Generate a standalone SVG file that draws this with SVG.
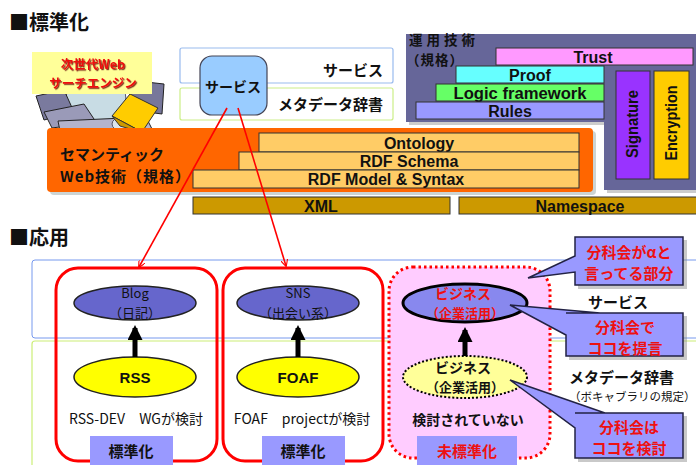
<svg xmlns="http://www.w3.org/2000/svg" width="696" height="465" viewBox="0 0 696 465">
  <style>
    text { font-family: "Liberation Sans", "Noto Sans CJK JP", sans-serif; font-weight: bold; fill: #111; }
    .jp { font-family: "Noto Sans CJK JP", "Liberation Sans", sans-serif; }
    .normal { font-weight: normal; }
    .head { font-size: 20px; }
    .bar { stroke: #333; stroke-width: 1; }
    .layer { font-size: 16px; text-anchor: middle; }
    .red { fill: #ee1111; }
    .callout { fill: #9999ff; stroke: #222244; stroke-width: 1.5; }
    .cshadow { fill: #888; opacity: 0.45; }
    .redline { stroke: #ff0000; stroke-width: 1.6; fill: none; marker-end: url(#openArrow); }
    .blkarrow { stroke: #000; stroke-width: 5; marker-end: url(#solidArrow); }
    .group { fill: none; stroke: #ff0000; stroke-width: 3; }
    .label { fill: #9999ff; }
  </style>
  <defs>
    <marker id="openArrow" viewBox="0 0 10 10" refX="9" refY="5" markerWidth="7" markerHeight="7" orient="auto" markerUnits="userSpaceOnUse">
      <path d="M0,0 L10,5 L0,10" fill="none" stroke="#ff0000" stroke-width="1.6"/>
    </marker>
    <marker id="solidArrow" viewBox="0 0 10 10" refX="8" refY="5" markerWidth="15" markerHeight="15" orient="auto" markerUnits="userSpaceOnUse">
      <path d="M0,0 L10,5 L0,10 Z" fill="#000"/>
    </marker>
    <filter id="textShadow" x="-10%" y="-30%" width="120%" height="160%">
      <feDropShadow dx="1.2" dy="1.2" stdDeviation="0.3" flood-color="#660000" flood-opacity="0.8"/>
    </filter>
  </defs>

  <rect width="696" height="465" fill="#ffffff"/>

  <!-- section headings -->
  <text class="jp head" x="9" y="30">■標準化</text>
  <text class="jp head" x="9" y="245">■応用</text>

  <!-- search engine clip art -->
  <g id="search-engine">
    <polygon points="128,80 164,84 162,114 132,110" fill="#77779a" stroke="#222" stroke-width="1"/>
    <circle cx="96" cy="100" r="30" fill="#c8dce4" stroke="#556" stroke-width="1"/>
    <polygon points="36,96 64,90 74,112 44,120" fill="#7a7a9e" stroke="#222" stroke-width="1"/>
    <polygon points="44,112 84,104 96,122 52,128" fill="#9a9ab8" stroke="#222" stroke-width="1"/>
    <polygon points="58,121 146,117 152,129 60,131" fill="#b4b4cc" stroke="#222" stroke-width="1"/>
    <ellipse cx="122" cy="124" rx="10" ry="7" fill="#dde6ee" stroke="#556" stroke-width="1"/>
    <polygon points="112,116 130,94 158,108 142,132" fill="#ffcc00" stroke="#333" stroke-width="1"/>
    <polygon points="112,116 120,126 144,133 142,132" fill="#cc9900" stroke="#333" stroke-width="1"/>
    <rect x="32" y="52" width="120" height="42" fill="#ffff99"/>
    <text class="jp red" x="93" y="69" font-size="12.5" text-anchor="middle" filter="url(#textShadow)">次世代Web</text>
    <text class="jp red" x="93" y="88" font-size="12.5" text-anchor="middle" filter="url(#textShadow)">サーチエンジン</text>
  </g>

  <!-- service / metadata rows -->
  <g id="service-row">
    <rect x="180" y="48" width="213" height="35" rx="2" fill="#fff" stroke="#99bbee" stroke-width="1.2"/>
    <text class="jp" x="383" y="76" font-size="15" text-anchor="end">サービス</text>
  </g>
  <g id="metadata-row">
    <rect x="180" y="88" width="213" height="32" rx="2" fill="#fff" stroke="#ccee88" stroke-width="1.2"/>
    <text class="jp" x="383" y="110" font-size="15" text-anchor="end">メタデータ辞書</text>
  </g>
  <g id="service-box">
    <rect x="200" y="56" width="67" height="59" rx="12" fill="#99ccff" stroke="#445" stroke-width="1.2"/>
    <text class="jp" x="233" y="92" font-size="14" text-anchor="middle">サービス</text>
  </g>

  <!-- operations technology block -->
  <g id="operations">
    <polygon points="409,37 699,37 699,193 607,193 607,125 409,125" fill="#999" opacity="0.5"/>
    <polygon points="406,34 696,34 696,190 604,190 604,122 406,122" fill="#666699"/>
    <text class="jp" x="409" y="45" font-size="13.5" letter-spacing="4">運用技術</text>
    <text class="jp" x="406" y="65" font-size="13.5" letter-spacing="1">（規格）</text>
    <rect class="bar" x="496" y="48" width="197" height="17" fill="#ff99ff"/>
    <text class="layer" x="593" y="63">Trust</text>
    <rect class="bar" x="456" y="66" width="148" height="17" fill="#66ffff"/>
    <text class="layer" x="530" y="81">Proof</text>
    <rect class="bar" x="436" y="84" width="168" height="17" fill="#66ff66"/>
    <text class="layer" x="520" y="99" textLength="133" lengthAdjust="spacingAndGlyphs">Logic framework</text>
    <rect class="bar" x="416" y="102" width="188" height="17" fill="#9999ff"/>
    <text class="layer" x="510" y="117">Rules</text>
    <rect class="bar" x="616" y="71" width="34" height="108" fill="#9933ff"/>
    <text class="layer" x="0" y="0" font-size="15" textLength="68" lengthAdjust="spacingAndGlyphs" transform="translate(638,124) rotate(-90)">Signature</text>
    <rect class="bar" x="654" y="71" width="35" height="108" fill="#ffcc00"/>
    <text class="layer" x="0" y="0" font-size="15" textLength="75" lengthAdjust="spacingAndGlyphs" transform="translate(677,123) rotate(-90)">Encryption</text>
  </g>

  <!-- semantic web technology block -->
  <g id="semantic-web">
    <rect x="50" y="131" width="546" height="64" rx="4" fill="#99aaaa" opacity="0.5"/>
    <rect x="47" y="128" width="546" height="64" rx="4" fill="#ff6600"/>
    <text class="jp" x="60" y="160" font-size="15">セマンティック</text>
    <text class="jp" x="60" y="182" font-size="15" letter-spacing="1">Web技術（規格）</text>
    <rect class="bar" x="259" y="133" width="320" height="19" fill="#ffcc66"/>
    <text class="layer" x="419" y="149" font-size="17">Ontology</text>
    <rect class="bar" x="239" y="152" width="340" height="18" fill="#ffcc66"/>
    <text class="layer" x="409" y="167" font-size="17">RDF Schema</text>
    <rect class="bar" x="193" y="170" width="386" height="18" fill="#ffcc66"/>
    <text class="layer" x="386" y="185" font-size="17">RDF Model &amp; Syntax</text>
  </g>
  <g id="xml">
    <rect class="bar" x="193" y="197" width="257" height="17" fill="#cc9900"/>
    <text class="layer" x="321" y="212" font-size="17">XML</text>
  </g>
  <g id="namespace">
    <rect class="bar" x="459" y="197" width="240" height="17" fill="#cc9900"/>
    <text class="layer" x="580" y="212" font-size="17">Namespace</text>
  </g>

  <!-- application bands -->
  <g id="service-band">
    <rect x="32" y="260" width="680" height="78" rx="3" fill="#fff" stroke="#7799ee" stroke-width="1"/>
    <text class="jp" x="588" y="308" font-size="15">サービス</text>
  </g>
  <g id="metadata-band">
    <rect x="32" y="341" width="680" height="140" rx="3" fill="#fff" stroke="#ccee77" stroke-width="1.2"/>
    <text class="jp" x="569" y="383" font-size="15">メタデータ辞書</text>
    <text class="jp normal" x="569" y="401" font-size="11.5">（ボキャブラリの規定）</text>
  </g>

  <!-- Blog / RSS -->
  <g id="blog-group">
    <rect class="group" x="56" y="268" width="161" height="193" rx="22"/>
    <rect class="label" x="90" y="436" width="83" height="30"/>
    <text class="jp" x="131" y="457" font-size="15" text-anchor="middle">標準化</text>
    <text class="jp normal" x="136" y="424" font-size="14" text-anchor="middle">RSS-DEV　WGが検討</text>
  </g>
  <g id="blog">
    <ellipse cx="135" cy="303" rx="61" ry="17" fill="#6666cc" stroke="#222" stroke-width="1.5"/>
    <text class="jp normal" x="135" y="298" font-size="13" text-anchor="middle">Blog</text>
    <text class="jp normal" x="135" y="318" font-size="13" text-anchor="middle">（日記）</text>
  </g>
  <g id="rss">
    <ellipse cx="135" cy="377" rx="61" ry="20" fill="#ffff00" stroke="#222" stroke-width="1.5"/>
    <text x="135" y="383" font-size="15" text-anchor="middle">RSS</text>
  </g>

  <!-- SNS / FOAF -->
  <g id="sns-group">
    <rect class="group" x="223" y="268" width="160" height="193" rx="22"/>
    <rect class="label" x="262" y="436" width="83" height="30"/>
    <text class="jp" x="303" y="457" font-size="15" text-anchor="middle">標準化</text>
    <text class="jp normal" x="302" y="424" font-size="14" text-anchor="middle">FOAF　projectが検討</text>
  </g>
  <g id="sns">
    <ellipse cx="298" cy="303" rx="61" ry="17" fill="#6666cc" stroke="#222" stroke-width="1.5"/>
    <text class="jp normal" x="298" y="298" font-size="13" text-anchor="middle">SNS</text>
    <text class="jp normal" x="298" y="318" font-size="13" text-anchor="middle">（出会い系）</text>
  </g>
  <g id="foaf">
    <ellipse cx="298" cy="377" rx="61" ry="20" fill="#ffff00" stroke="#222" stroke-width="1.5"/>
    <text x="298" y="383" font-size="15" text-anchor="middle">FOAF</text>
  </g>

  <!-- business (not standardised) -->
  <g id="business-group">
    <rect x="389" y="267" width="161" height="191" rx="24" fill="#ffccff" stroke="#ff0000" stroke-width="3" stroke-dasharray="2.5 3"/>
    <rect class="label" x="417" y="436" width="100" height="30"/>
    <text class="jp red" x="467" y="457" font-size="15" text-anchor="middle">未標準化</text>
    <text class="jp" x="468" y="425" font-size="14" text-anchor="middle">検討されていない</text>
  </g>
  <g id="business-service">
    <ellipse cx="465" cy="303" rx="62" ry="19" fill="#8888ee" stroke="#000" stroke-width="3"/>
    <text class="jp red" x="463" y="299" font-size="14" text-anchor="middle">ビジネス</text>
    <text class="jp red" x="465" y="318" font-size="13" text-anchor="middle">（企業活用）</text>
  </g>
  <g id="business-metadata">
    <ellipse cx="465" cy="377" rx="62" ry="21" fill="#ffff99" stroke="#000" stroke-width="2" stroke-dasharray="2 2"/>
    <text class="jp" x="463" y="373" font-size="14" text-anchor="middle">ビジネス</text>
    <text class="jp" x="465" y="392" font-size="13" text-anchor="middle">（企業活用）</text>
  </g>

  <!-- callouts -->
  <g id="callout-alpha">
    <path class="cshadow" d="M578,240 H687 V289 H578 V270 Z"/>
    <path class="callout" d="M575,237 H683 V285 H575 V272 L528,278 L575,256 Z"/>
    <text class="jp red" x="629" y="258" font-size="15" text-anchor="middle">分科会がαと</text>
    <text class="jp red" x="629" y="279" font-size="15" text-anchor="middle">言ってる部分</text>
  </g>
  <g id="callout-propose">
    <path class="cshadow" d="M569,316 H687 V360 H569 Z"/>
    <path class="callout" d="M566,313 H683 V356 H566 V335 L510,305 L600,313 Z"/>
    <text class="jp red" x="625" y="333" font-size="15" text-anchor="middle">分科会で</text>
    <text class="jp red" x="625" y="354" font-size="15" text-anchor="middle">ココを提言</text>
  </g>
  <g id="callout-review">
    <path class="cshadow" d="M578,416 H687 V462 H578 Z"/>
    <path class="callout" d="M575,413 H683 V458 H575 V428 L510,380 L605,413 Z"/>
    <text class="jp red" x="629" y="433" font-size="15" text-anchor="middle">分科会は</text>
    <text class="jp red" x="629" y="454" font-size="15" text-anchor="middle">ココを検討</text>
  </g>

  <!-- connectors -->
  <g id="connectors">
    <line class="redline" x1="227" y1="108" x2="139" y2="267"/>
    <line class="redline" x1="238" y1="108" x2="286" y2="266"/>
    <line class="blkarrow" x1="135" y1="357" x2="135" y2="328"/>
    <line class="blkarrow" x1="298" y1="357" x2="298" y2="328"/>
    <line class="blkarrow" x1="465" y1="356" x2="465" y2="330"/>
  </g>
</svg>
